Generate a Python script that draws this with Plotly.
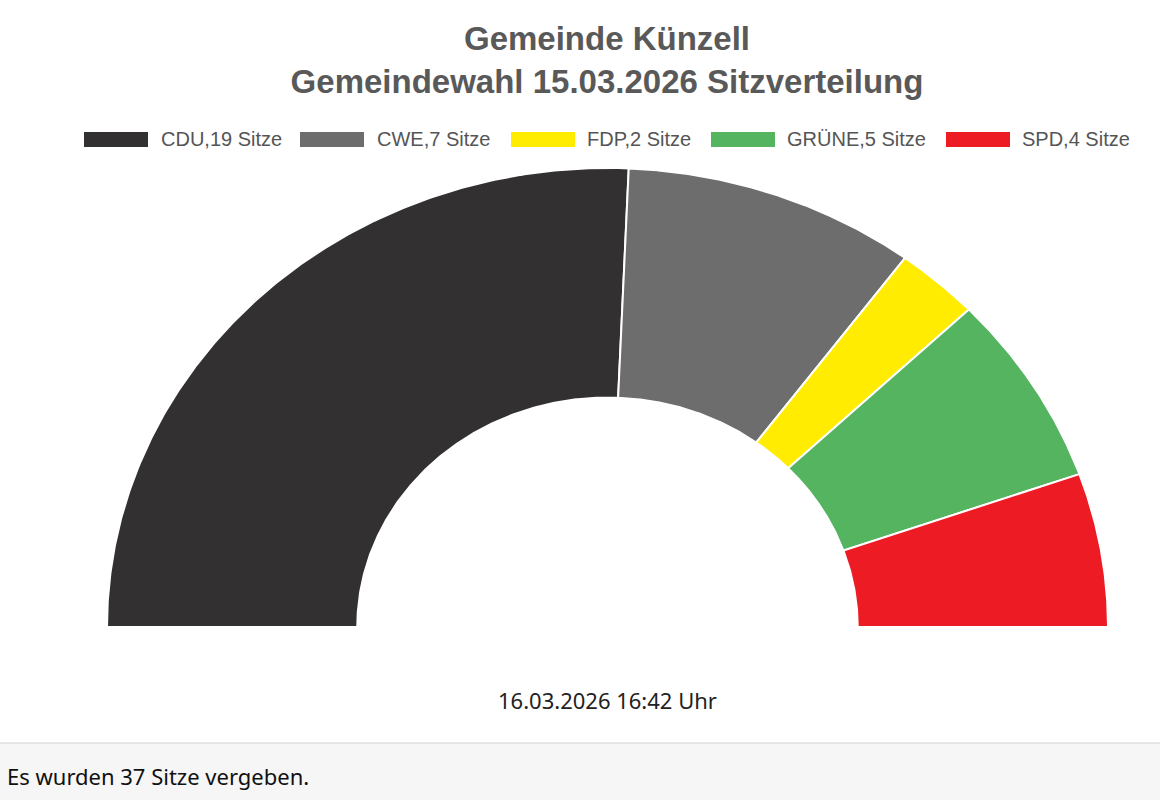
import numpy as np
import plotly.graph_objects as go

# ---- data ----
parties = ["CDU", "CWE", "FDP", "GRÜNE", "SPD"]
seats = [19, 7, 2, 5, 4]
colors = ["#323031", "#6d6d6d", "#ffec00", "#55b45f", "#ed1c24"]
title_lines = ["Gemeinde Künzell", "Gemeindewahl 15.03.2026 Sitzverteilung"]
timestamp = "16.03.2026 16:42 Uhr"
footer = "Es wurden 37 Sitze vergeben."

# ---- layout constants (pixels) ----
W, H = 1160, 800
hole = 0.5
cx, cy, rx, ry = 607.5, 627.0, 500.5, 459.0   # centre and radii of the semicircle
legend_box_x = [84, 300, 511, 711, 946]
legend_text_x = [161, 377, 587, 787, 1022]
legend_y, box_w, box_h = 139.5, 64, 15
SANS = "Arial, Liberation Sans, sans-serif"

total = sum(seats)
labels = [f"{p},{s} Sitze" for p, s in zip(parties, seats)]

fig = go.Figure()
cum = 0
for lab, s, c in zip(labels, seats, colors):
    a0 = np.pi * (1 - cum / total)
    a1 = np.pi * (1 - (cum + s) / total)
    cum += s
    t = np.linspace(a0, a1, 240)
    xs = np.concatenate([np.cos(t), hole * np.cos(t[::-1]), [np.cos(t[0])]])
    ys = np.concatenate([np.sin(t), hole * np.sin(t[::-1]), [np.sin(t[0])]])
    fig.add_trace(go.Scatter(
        x=xs, y=ys, mode="lines", fill="toself", fillcolor=c,
        line=dict(color="white", width=2),
        name=lab, hoveron="fills", hoverinfo="name", showlegend=False,
    ))

fig.update_xaxes(range=[-cx / rx, (W - cx) / rx], visible=False, fixedrange=True)
fig.update_yaxes(range=[-(H - cy) / ry, cy / ry], visible=False, fixedrange=True)


def px(x):
    return x / W


def py(y):
    return 1 - y / H


shapes = [
    dict(type="rect", xref="paper", yref="paper", x0=0, x1=1, y0=0, y1=py(743),
         fillcolor="#f6f6f6", line=dict(width=0), layer="below"),
    dict(type="line", xref="paper", yref="paper", x0=0, x1=1,
         y0=py(743), y1=py(743), line=dict(color="#d2d2d2", width=1)),
]
annotations = [
    dict(text=timestamp, xref="paper", yref="paper", x=px(607), y=py(700),
         xanchor="center", yanchor="middle", showarrow=False,
         font=dict(family="Noto Sans", size=22, color="#222222")),
    dict(text=footer, xref="paper", yref="paper", x=px(5), y=py(776),
         xanchor="left", yanchor="middle", showarrow=False,
         font=dict(family="Noto Sans", size=22, color="#111111")),
]
for lab, c, bx, tx in zip(labels, colors, legend_box_x, legend_text_x):
    shapes.append(dict(type="rect", xref="paper", yref="paper",
                       x0=px(bx), x1=px(bx + box_w),
                       y0=py(legend_y + box_h / 2), y1=py(legend_y - box_h / 2),
                       fillcolor=c, line=dict(width=0)))
    annotations.append(dict(text=lab, xref="paper", yref="paper", x=px(tx - 2), y=py(legend_y),
                            xanchor="left", yanchor="middle", showarrow=False,
                            font=dict(family=SANS, size=20, color="#555555")))

fig.update_layout(
    width=W, height=H,
    margin=dict(l=0, r=0, t=0, b=0),
    paper_bgcolor="white", plot_bgcolor="white",
    title=dict(
        text="<b>" + "<br>".join(title_lines) + "</b>",
        x=px(607), xanchor="center", y=py(50), yanchor="middle",
        font=dict(family=SANS, size=33, color="#595959"),
    ),
    shapes=shapes,
    annotations=annotations,
    showlegend=False,
)

fig.write_html("out.html", config={"displayModeBar": False},
               post_script="document.body.style.margin='0';")
